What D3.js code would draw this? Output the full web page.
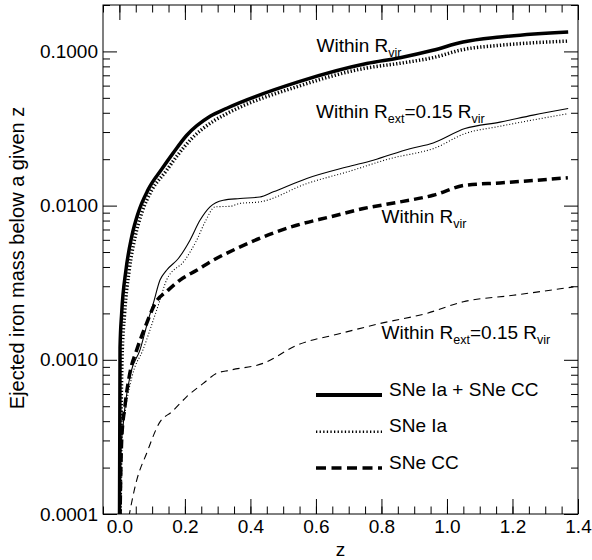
<!DOCTYPE html>
<html>
<head>
<meta charset="utf-8">
<script src="https://cdn.jsdelivr.net/npm/d3@7"></script>
<style>
  body { margin: 0; background: #fff; }
  text { font-family: "Liberation Sans", Arial, sans-serif; fill: #000; }
</style>
</head>
<body>
<div id="chart"></div>
<script>
// redshift / cumulative iron mass
var zTotVir = [0.0, 0.002, 0.007, 0.020, 0.0375, 0.057, 0.087, 0.129, 0.164, 0.205, 0.277, 0.328, 0.546, 0.755, 0.857, 0.957, 1.049, 1.162, 1.370];
var mTotVir = [0.00005, 0.0012, 0.00201, 0.00381, 0.00627, 0.00893, 0.0126, 0.0172, 0.0219, 0.0285, 0.0380, 0.0428, 0.0634, 0.0834, 0.091, 0.1017, 0.115, 0.124, 0.1337];

var zIaVir = [0.001, 0.008, 0.016, 0.030, 0.048, 0.068, 0.099, 0.142, 0.176, 0.219, 0.289, 0.328, 0.546, 0.755, 0.857, 0.958, 1.049, 1.162, 1.370];
var mIaVir = [0.00005, 0.0010, 0.00201, 0.00381, 0.00627, 0.00893, 0.0126, 0.0167, 0.0210, 0.0270, 0.0355, 0.0395, 0.0594, 0.0781, 0.0838, 0.0912, 0.1028, 0.1096, 0.1167];

var zTotExt = [0.0, 0.004, 0.010, 0.017, 0.0345, 0.063, 0.088, 0.1035, 0.124, 0.144, 0.180, 0.2155, 0.246, 0.2766, 0.317, 0.368, 0.429, 0.470, 0.572, 0.694, 0.775, 0.887, 0.958, 1.055, 1.162, 1.263, 1.370];
var mTotExt = [0.00005, 0.00026, 0.00035, 0.000495, 0.00082, 0.00116, 0.00181, 0.00232, 0.00329, 0.00381, 0.00454, 0.00597, 0.00803, 0.00982, 0.01084, 0.01112, 0.01137, 0.01228, 0.0150, 0.0178, 0.0197, 0.0234, 0.0255, 0.0316, 0.0348, 0.0386, 0.0426];

var zIaExt = [0.001, 0.005, 0.020, 0.0415, 0.072, 0.1035, 0.124, 0.144, 0.200, 0.236, 0.264, 0.292, 0.338, 0.368, 0.429, 0.572, 0.694, 0.857, 0.887, 0.958, 1.055, 1.162, 1.370];
var mIaExt = [0.00005, 0.00026, 0.000495, 0.00082, 0.00116, 0.00181, 0.00244, 0.00329, 0.00443, 0.00597, 0.00803, 0.00982, 0.0099, 0.01033, 0.01057, 0.0139, 0.0165, 0.0209, 0.0215, 0.0234, 0.0293, 0.0327, 0.0395];

var zCcVir = [0.0, 0.007, 0.017, 0.032, 0.053, 0.083, 0.109, 0.149, 0.185, 0.236, 0.287, 0.358, 0.439, 0.541, 0.643, 0.745, 0.857, 0.958, 1.055, 1.162, 1.369];
var mCcVir = [0.00005, 0.000302, 0.000501, 0.00082, 0.00116, 0.00172, 0.00232, 0.00283, 0.00329, 0.00381, 0.00443, 0.00527, 0.00627, 0.00746, 0.00845, 0.00957, 0.01057, 0.01167, 0.01355, 0.01403, 0.01515];

var zCcExt = [0.022, 0.053, 0.083, 0.124, 0.160, 0.205, 0.256, 0.297, 0.338, 0.439, 0.541, 0.674, 0.796, 0.938, 1.050, 1.202, 1.386];
var mCcExt = [0.00008, 0.000166, 0.000247, 0.000396, 0.00046, 0.000575, 0.000703, 0.000817, 0.000857, 0.000949, 0.00124, 0.00148, 0.00172, 0.00200, 0.00238, 0.00262, 0.00297];

var xMajor = [0, 0.2, 0.4, 0.6, 0.8, 1.0, 1.2, 1.4];
var xMinor = d3.range(-0.05, 1.401, 0.05);
var yMajor = [0.0001, 0.001, 0.01, 0.1];
var yMinor = [];
[0.0001, 0.001, 0.01, 0.1].forEach(function(d){
    for (var k = 2; k <= 9; k++) { if (d * k <= 0.2) yMinor.push(d * k); }
});

var legendNames = ["SNe Ia + SNe CC", "SNe Ia", "SNe CC"];

var W = 592, H = 560;
var padL = 103, padR = 578, padT = 5, padB = 514;

var svg = d3.select("#chart").append("svg")
    .attr("width", W).attr("height", H);

var x = d3.scaleLinear().domain([-0.05, 1.4]).range([padL, padR]);
var y = d3.scaleLog().domain([0.0001, 0.2]).range([padB, padT]);

// ticks on all four sides, pointing inward
svg.append("g").attr("transform", "translate(0," + padB + ")")
    .call(d3.axisBottom(x).tickValues(xMajor).tickSize(-15).tickSizeOuter(0).tickPadding(6)
        .tickFormat(d3.format(".1f")));
svg.append("g").attr("transform", "translate(0," + padB + ")")
    .call(d3.axisBottom(x).tickValues(xMinor).tickSize(-7.5).tickSizeOuter(0).tickFormat(""));
svg.append("g").attr("transform", "translate(0," + padT + ")")
    .call(d3.axisTop(x).tickValues(xMajor).tickSize(-15).tickSizeOuter(0).tickFormat(""));
svg.append("g").attr("transform", "translate(0," + padT + ")")
    .call(d3.axisTop(x).tickValues(xMinor).tickSize(-7.5).tickSizeOuter(0).tickFormat(""));

svg.append("g").attr("transform", "translate(" + padL + ",0)")
    .call(d3.axisLeft(y).tickValues(yMajor).tickSize(-14).tickSizeOuter(0).tickPadding(5)
        .tickFormat(d3.format(".4f")));
svg.append("g").attr("transform", "translate(" + padL + ",0)")
    .call(d3.axisLeft(y).tickValues(yMinor).tickSize(-7).tickSizeOuter(0).tickFormat(""));
svg.append("g").attr("transform", "translate(" + padR + ",0)")
    .call(d3.axisRight(y).tickValues(yMajor).tickSize(-14).tickSizeOuter(0).tickFormat(""));
svg.append("g").attr("transform", "translate(" + padR + ",0)")
    .call(d3.axisRight(y).tickValues(yMinor).tickSize(-7).tickSizeOuter(0).tickFormat(""));

svg.selectAll(".domain").remove();
svg.selectAll(".tick line").attr("stroke", "#000");
svg.selectAll(".tick text").style("font-size", "19px")
    .style("font-family", "'Liberation Sans', Arial, sans-serif");

svg.append("rect")
    .attr("x", padL).attr("y", padT)
    .attr("width", padR - padL).attr("height", padB - padT)
    .attr("fill", "none").attr("stroke", "#000").attr("stroke-width", 1);

svg.append("defs").append("clipPath").attr("id", "plotClip")
    .append("rect").attr("x", padL).attr("y", padT)
    .attr("width", padR - padL).attr("height", padB - padT);

var line = d3.line()
    .x(function(d){ return x(d[0]); })
    .y(function(d){ return y(d[1]); })
    .curve(d3.curveMonotoneX);

var curves = [
    { z: zTotVir, m: mTotVir, w: 3.5, dash: null },
    { z: zIaVir,  m: mIaVir,  w: 3.5, dash: "1.3,2" },
    { z: zTotExt, m: mTotExt, w: 1.1, dash: null },
    { z: zIaExt,  m: mIaExt,  w: 1.1, dash: "1,2" },
    { z: zCcVir,  m: mCcVir,  w: 3.5, dash: "9,5" },
    { z: zCcExt,  m: mCcExt,  w: 1.1, dash: "7,5" }
];

var plot = svg.append("g").attr("clip-path", "url(#plotClip)");
plot.selectAll("path.curve")
    .data(curves)
    .enter().append("path")
    .attr("class", "curve")
    .attr("d", function(c){ return line(d3.zip(c.z, c.m)); })
    .attr("fill", "none")
    .attr("stroke", "#000")
    .attr("stroke-width", function(c){ return c.w; })
    .attr("stroke-dasharray", function(c){ return c.dash; });

// curve labels, subscripts dropped by 5px
function label(xp, yp, parts) {
    var t = svg.append("text").attr("x", xp).attr("y", yp).style("font-size", "19px");
    var shifted = false;
    parts.forEach(function(p){
        var s = t.append("tspan").text(p[0]);
        if (p[1]) {
            s.attr("dy", 5).style("font-size", "12.5px");
            shifted = true;
        } else if (shifted) {
            s.attr("dy", -5);
            shifted = false;
        }
    });
}
label(316.5, 51.7, [["Within R", false], ["vir", true]]);
label(316, 118.3, [["Within R", false], ["ext", true], ["=0.15 R", false], ["vir", true]]);
label(381.5, 222.7, [["Within R", false], ["vir", true]]);
label(381.5, 339, [["Within R", false], ["ext", true], ["=0.15 R", false], ["vir", true]]);

// legend
var legendStyle = [
    { w: 4, dash: null },
    { w: 2.5, dash: "1.3,2.3" },
    { w: 3.5, dash: "10,5.5" }
];
var legendY = [395, 431.7, 468];
var lg = svg.append("g");
legendNames.forEach(function(name, i){
    lg.append("line")
        .attr("x1", 316).attr("x2", 382)
        .attr("y1", legendY[i]).attr("y2", legendY[i])
        .attr("stroke", "#000")
        .attr("stroke-width", legendStyle[i].w)
        .attr("stroke-dasharray", legendStyle[i].dash);
    lg.append("text")
        .attr("x", 389).attr("y", legendY[i] + 0.5)
        .style("font-size", "19px")
        .text(name);
});

// axis titles
svg.append("text")
    .attr("transform", "translate(24,258) rotate(-90)")
    .attr("text-anchor", "middle")
    .style("font-size", "20px")
    .text("Ejected iron mass below a given z");

svg.append("text")
    .attr("x", (padL + padR) / 2).attr("y", 556)
    .attr("text-anchor", "middle")
    .style("font-size", "19px")
    .text("z");
</script>
</body>
</html>
